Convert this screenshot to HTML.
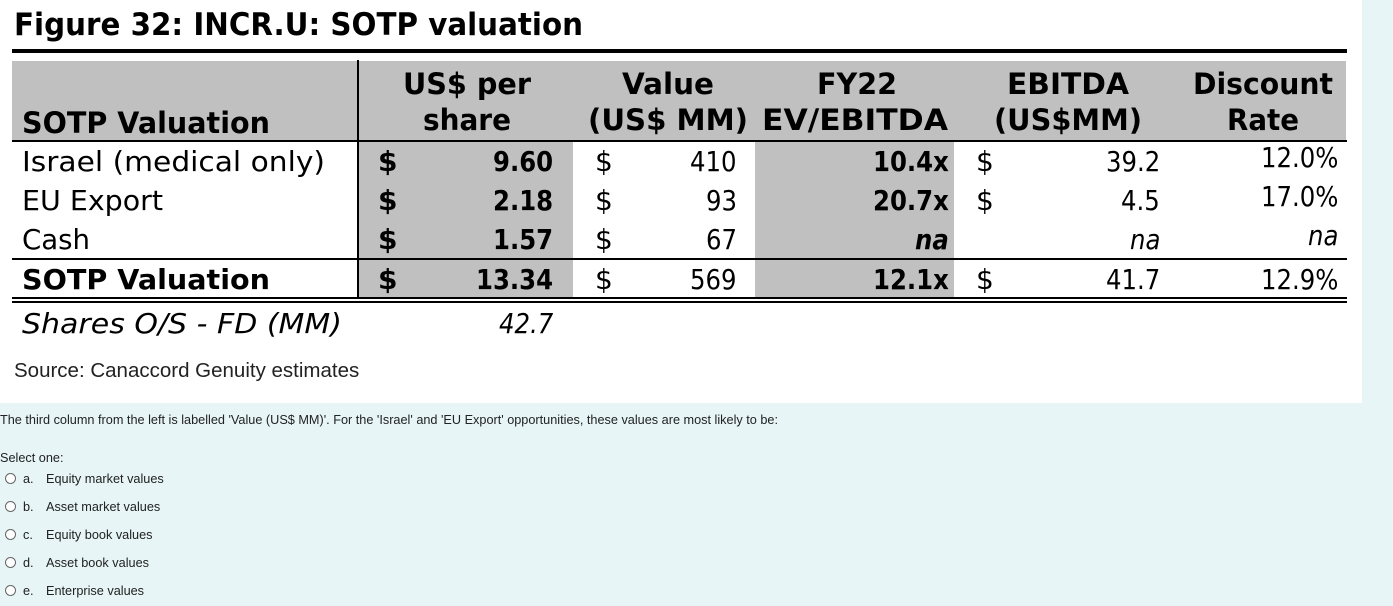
<!DOCTYPE html>
<html><head><meta charset="utf-8">
<style>
body{margin:0;width:1393px;height:606px;background:#e7f5f6;position:relative;overflow:hidden;font-family:"DejaVu Sans","Liberation Sans",sans-serif;color:#000}
#panel{position:absolute;left:0;top:0;width:1362px;height:403px;background:#fff}
.t{position:absolute;white-space:nowrap;line-height:1}
.b{font-weight:bold}
.i{font-style:italic}
.g{position:absolute;background:#c0c0c0}
.hl{position:absolute;background:#000}
.q{position:absolute;font-family:"Liberation Sans",sans-serif;font-size:12.7px;color:#222;white-space:nowrap}
.radio{position:absolute;width:9px;height:9px;border:1px solid #666;border-radius:50%;background:#fff}
</style></head><body>
<div id="panel">
<div class="t b" data-fit="569" style="left:14px;top:10px;font-size:31px">Figure 32: INCR.U: SOTP valuation</div>
<div class="hl" style="left:12px;top:49px;width:1335px;height:4px"></div>
<div class="g" style="left:12px;top:61px;width:1334px;height:80px"></div>
<div class="g" style="left:358px;top:141px;width:215px;height:156px"></div>
<div class="g" style="left:755px;top:141px;width:199px;height:156px"></div>
<div class="hl" style="left:12px;top:140px;width:1335px;height:2px"></div>
<div class="hl" style="left:12px;top:258px;width:1335px;height:2px"></div>
<div class="hl" style="left:12px;top:297px;width:1335px;height:2px"></div>
<div class="hl" style="left:12px;top:301px;width:1335px;height:2px"></div>
<div class="hl" style="left:357px;top:60px;width:2px;height:237px"></div>

<div class="t b" data-fit="248" style="left:22px;top:109px;font-size:29px">SOTP Valuation</div>
<div class="t b" data-fit="128" data-c="467" style="top:70px;font-size:29px">US$ per</div>
<div class="t b" data-fit="88" data-c="467" style="top:106px;font-size:29px">share</div>
<div class="t b" data-fit="92" data-c="668" style="top:70px;font-size:29px">Value</div>
<div class="t b" data-fit="160" data-c="668" style="top:106px;font-size:29px">(US$ MM)</div>
<div class="t b" data-fit="80" data-c="857" style="top:70px;font-size:29px">FY22</div>
<div class="t b" data-fit="186" data-c="855" style="top:106px;font-size:29px">EV/EBITDA</div>
<div class="t b" data-fit="122" data-c="1068" style="top:70px;font-size:29px">EBITDA</div>
<div class="t b" data-fit="148" data-c="1068" style="top:106px;font-size:29px">(US$MM)</div>
<div class="t b" data-fit="140" data-c="1263" style="top:70px;font-size:29px">Discount</div>
<div class="t b" data-fit="72" data-c="1263" style="top:106px;font-size:29px">Rate</div>

<div id="rows"></div>

<div class="t i" data-fit="320" style="left:22px;top:310px;font-size:28px">Shares O/S - FD (MM)</div>
<div class="t i" data-r="553" style="top:310px;font-size:28px">42.7</div>
<div class="t" style="left:14px;top:361px;font-size:20.5px;font-family:'Liberation Sans',sans-serif;color:#222">Source: Canaccord Genuity estimates</div>
</div>

<div class="q" style="left:0;top:413px">The third column from the left is labelled 'Value (US$ MM)'. For the 'Israel' and 'EU Export' opportunities, these values are most likely to be:</div>
<div class="q" style="left:0;top:451px">Select one:</div>
<div id="opts"></div>

<script>
const labels=["Israel (medical only)","EU Export","Cash","SOTP Valuation"];
const perShare=["9.60","2.18","1.57","13.34"];
const values=["410","93","67","569"];
const evEbitda=["10.4x","20.7x","na","12.1x"];
const ebitda=["39.2","4.5","na","41.7"];
const discount=["12.0%","17.0%","na","12.9%"];
const labelW=[303,141,68,248];
const rowTop=[148,187,226,266];
const rows=document.getElementById('rows');
function mk(txt,cls,style,name){const d=document.createElement('div');d.className='t '+cls;d.textContent=txt;d.style.cssText=style;


rows.appendChild(d);return d;}
labels.forEach((l,i)=>{
 const tot=i===3;const y=rowTop[i];const fs='font-size:28px;top:'+y+'px;';
 const a=mk(l,tot?'b':'',fs+'left:22px',tot?'total-label':'row-label');a.dataset.fit=labelW[i];
 mk('$','b',fs+'left:378px','per-share-dollar');
 const p=mk(perShare[i],'b',fs,'per-share-value');p.dataset.r=553;
 mk('$','',fs+'left:595px','value-dollar');
 const v=mk(values[i],'',fs,'value-mm');v.dataset.r=737;
 const e=mk(evEbitda[i],evEbitda[i]==='na'?'b i':'b',fs,'ev-ebitda-multiple');e.dataset.r=949;
 if(ebitda[i]!=='na')mk('$','',fs+'left:976px','ebitda-dollar');
 const eb=mk(ebitda[i],ebitda[i]==='na'?'i':'',fs,'ebitda-value');eb.dataset.r=1160;
 const dr=mk(discount[i],discount[i]==='na'?'i':'',fs.replace('top:'+y,'top:'+(tot?y:y-4)),'discount-rate');dr.dataset.r=1338;
});
document.querySelectorAll('[data-fit],[data-r],[data-c]').forEach(el=>{
 let w=el.getBoundingClientRect().width;
 if(el.dataset.fit){const s=el.dataset.fit/w;el.style.transformOrigin='left top';el.style.transform='scaleX('+s+')';w=+el.dataset.fit;}
 else if(el.classList.contains('t')){const s=0.87;el.style.transformOrigin='left top';el.style.transform='scaleX('+s+')';w=w*s;}
 if(el.dataset.r)el.style.left=(el.dataset.r-w)+'px';
 if(el.dataset.c)el.style.left=(el.dataset.c-w/2)+'px';
});
const opts=[["a.","Equity market values"],["b.","Asset market values"],["c.","Equity book values"],["d.","Asset book values"],["e.","Enterprise values"]];
const oc=document.getElementById('opts');
opts.forEach((o,i)=>{const y=479+28*i;
 const r=document.createElement('div');r.className='radio';r.style.left='5px';r.style.top=(y-6)+'px';
 
 
 oc.appendChild(r);
 const l=document.createElement('div');l.className='q';l.style.left='23px';l.style.top=(y-7)+'px';l.textContent=o[0];
 
 
 oc.appendChild(l);
 const t=document.createElement('div');t.className='q';t.style.left='46px';t.style.top=(y-7)+'px';t.textContent=o[1];
 
 
 oc.appendChild(t);
});
</script>
</body></html>
